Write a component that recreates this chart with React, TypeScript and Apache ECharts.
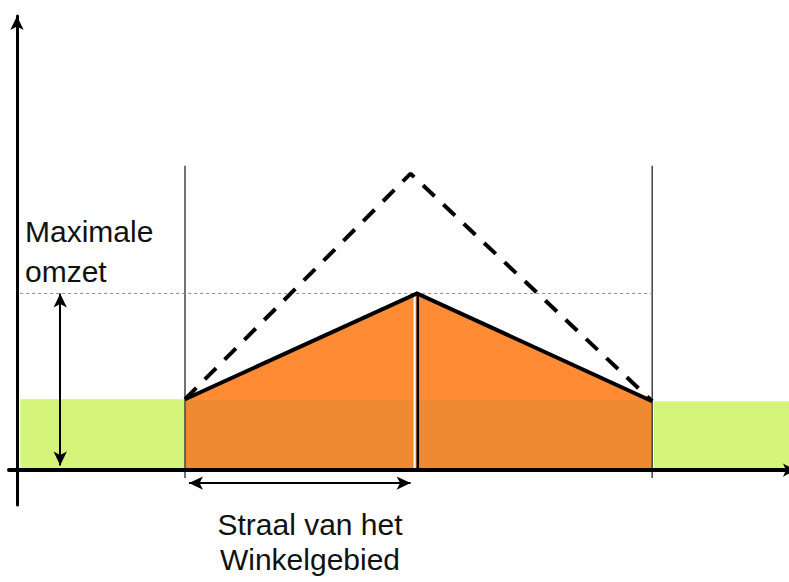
import React, { useEffect, useRef } from "react";
import * as echarts from "echarts";

// Schematic values (distance units along x, turnover units along y)
const axisRange = { xMin: -1, xMax: 96.5, yMin: -7, yMax: 91 };
const outsideLeftX = [0.4, 21];
const outsideRightX = [79.6, 96.5];
const outsideLevel = [14.2, 13.8];
const areaX = [21, 50, 79.4];
const actualTurnover = [14.2, 35.4, 13.8];
const potentialX = [21, 49.2, 79.4];
const potentialTurnover = [14.2, 59.4, 13.8];
const maxTurnover = 35.4;
const boundaryRange = [-1.6, 61];
const radiusArrowY = -2.6;
const radiusArrowX = [21.5, 49.2];
const maxArrowX = 5.4;
const maxArrowY = [35.4, 0.9];
const labelMax = ["Maximale", "omzet"];
const labelRadius = ["Straal van het", "Winkelgebied"];

const FONT = "Liberation Sans, Arial, sans-serif";

export default function App() {
  const ref = useRef<HTMLDivElement>(null);
  useEffect(() => {
    if (!ref.current) return;
    const chart = echarts.init(ref.current, undefined, { renderer: "svg" });
    const noSym = { symbol: "none", silent: true };
    const option: any = {
      animation: false,
      backgroundColor: "#ffffff",
      grid: { left: 9, right: 0, top: 16, bottom: 77 },
      xAxis: {
        type: "value",
        min: axisRange.xMin,
        max: axisRange.xMax,
        z: 20,
        axisLine: {
          onZero: true,
          lineStyle: { color: "#000", width: 4 },
          symbol: ["none", "arrow"],
          symbolSize: [10, 12],
          symbolOffset: [0, 6],
        },
        axisTick: { show: false },
        axisLabel: { show: false },
        splitLine: { show: false },
      },
      yAxis: {
        type: "value",
        min: axisRange.yMin,
        max: axisRange.yMax,
        z: 20,
        axisLine: {
          show: true,
          onZero: true,
          lineStyle: { color: "#000", width: 3 },
          symbol: ["none", "arrow"],
          symbolSize: [10, 14],
        },
        axisTick: { show: false },
        axisLabel: { show: false },
        splitLine: { show: false },
      },
      series: [
        {
          type: "line",
          ...noSym,
          data: outsideLeftX.map((x) => [x, outsideLevel[0]]),
          lineStyle: { width: 0 },
          areaStyle: { color: "#D4F57A", opacity: 1 },
          z: 1,
        },
        {
          type: "line",
          ...noSym,
          data: outsideRightX.map((x) => [x, outsideLevel[1]]),
          lineStyle: { width: 0 },
          areaStyle: { color: "#D4F57A", opacity: 1 },
          z: 1,
        },
        {
          type: "line",
          ...noSym,
          data: areaX.map((x, i) => [x, actualTurnover[i]]),
          lineStyle: { width: 0 },
          areaStyle: { color: "#FF8C35", opacity: 1 },
          z: 2,
        },
        {
          type: "line",
          ...noSym,
          data: [
            [areaX[0], outsideLevel[0] - 0.2],
            [areaX[2], outsideLevel[0] - 0.2],
          ],
          lineStyle: { width: 0 },
          areaStyle: { color: "#F08A32", opacity: 1 },
          z: 3,
        },
        {
          type: "line",
          ...noSym,
          data: [
            [areaX[1] - 0.3, 0],
            [areaX[1] - 0.3, maxTurnover - 0.5],
          ],
          lineStyle: { color: "#ffffff", width: 2 },
          z: 4,
        },
        {
          type: "line",
          ...noSym,
          data: [
            [areaX[1] + 0.1, 0],
            [areaX[1] + 0.1, maxTurnover],
          ],
          lineStyle: { color: "#000", width: 2.5 },
          z: 5,
        },
        // boundaries of trade area
        {
          type: "line",
          ...noSym,
          data: boundaryRange.map((y) => [areaX[0], y]),
          lineStyle: { color: "#444", width: 1.5 },
          z: 5,
        },
        {
          type: "line",
          ...noSym,
          data: boundaryRange.map((y) => [areaX[2], y]),
          lineStyle: { color: "#444", width: 1.5 },
          z: 5,
        },
        // max turnover dotted line
        {
          type: "line",
          ...noSym,
          data: [
            [outsideLeftX[0], maxTurnover],
            [areaX[2], maxTurnover],
          ],
          lineStyle: { color: "#888", width: 1, type: [3, 3] },
          z: 5,
        },
        // potential (dashed)
        {
          type: "line",
          ...noSym,
          data: potentialX.map((x, i) => [x, potentialTurnover[i]]),
          lineStyle: { color: "#000", width: 4, type: [16, 12] },
          z: 6,
        },
        // actual turnover line
        {
          type: "line",
          ...noSym,
          data: areaX.map((x, i) => [x, actualTurnover[i]]),
          lineStyle: { color: "#000", width: 4, join: "miter" },
          z: 7,
        },
        // arrows
        {
          type: "line",
          ...noSym,
          data: [],
          markLine: {
            silent: true,
            symbol: ["arrow", "arrow"],
            symbolSize: [10, 14],
            label: { show: false },
            lineStyle: { color: "#000", width: 2, type: "solid" },
            data: [
              [
                { coord: [maxArrowX, maxArrowY[0]] },
                { coord: [maxArrowX, maxArrowY[1]] },
              ],
              [
                { coord: [radiusArrowX[0], radiusArrowY] },
                { coord: [radiusArrowX[1], radiusArrowY] },
              ],
            ],
          },
          z: 8,
        },
      ],
      graphic: [
        {
          type: "text",
          x: 25,
          y: 231.5,
          style: { text: labelMax[0], font: `30px ${FONT}`, fill: "#111", textVerticalAlign: "middle" },
        },
        {
          type: "text",
          x: 25,
          y: 271.5,
          style: { text: labelMax[1], font: `30px ${FONT}`, fill: "#111", textVerticalAlign: "middle" },
        },
        {
          type: "text",
          x: 310,
          y: 524.5,
          style: { text: labelRadius[0], font: `30px ${FONT}`, fill: "#111", textAlign: "center", textVerticalAlign: "middle" },
        },
        {
          type: "text",
          x: 310,
          y: 559.5,
          style: { text: labelRadius[1], font: `30px ${FONT}`, fill: "#111", textAlign: "center", textVerticalAlign: "middle" },
        },
      ],
    };
    chart.setOption(option);
    return () => chart.dispose();
  }, []);
  return (
    <div
      ref={ref}
      style={{ position: "fixed", left: 0, top: 0, width: 789, height: 582 }}
    />
  );
}
